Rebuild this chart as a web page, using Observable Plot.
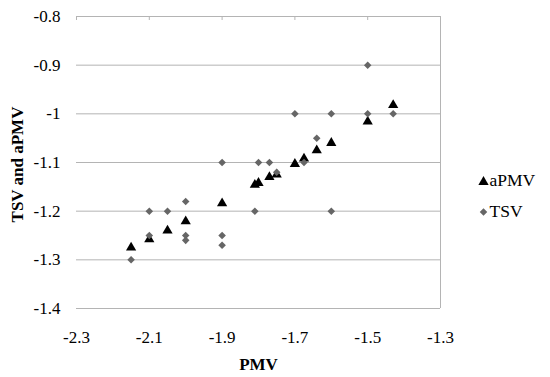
<!DOCTYPE html>
<html><head><meta charset="utf-8">
<script src="https://cdn.jsdelivr.net/npm/d3@7"></script>
<script src="https://cdn.jsdelivr.net/npm/@observablehq/plot@0.6"></script>
<style>
body{margin:0;background:#fff;}
#wrap{width:550px;height:377px;}
</style></head><body><div id="wrap"></div>
<script>
const xTicks = [-2.3, -2.1, -1.9, -1.7, -1.5, -1.3];
const yTicks = [-0.8, -0.9, -1.0, -1.1, -1.2, -1.3, -1.4];
const xLabel = "PMV";
const yLabel = "TSV and aPMV";
const seriesNames = ["aPMV", "TSV"];

const aPMV_x = [-2.15, -2.10, -2.05, -2.00, -1.90, -1.81, -1.80, -1.77, -1.75, -1.70, -1.675, -1.64, -1.60, -1.50, -1.43];
const aPMV_y = [-1.275, -1.258, -1.240, -1.221, -1.184, -1.146, -1.142, -1.130, -1.125, -1.103, -1.092, -1.075, -1.060, -1.016, -0.982];

const TSV_x = [-2.15, -2.10, -2.10, -2.05, -2.00, -2.00, -2.00, -1.90, -1.90, -1.90, -1.81, -1.80, -1.77, -1.75, -1.70, -1.675, -1.64, -1.60, -1.60, -1.50, -1.50, -1.43];
const TSV_y = [-1.30, -1.25, -1.20, -1.20, -1.18, -1.25, -1.26, -1.10, -1.25, -1.27, -1.20, -1.10, -1.10, -1.12, -1.00, -1.10, -1.05, -1.00, -1.20, -0.90, -1.00, -1.00];

const aPMV = aPMV_x.map((x, i) => ({x, y: aPMV_y[i]}));
const TSV = TSV_x.map((x, i) => ({x, y: TSV_y[i]}));

const fmt = d => String(Math.round(d * 10) / 10);
const gridColor = "#b4b4b4";
const font = '"Liberation Serif", "Times New Roman", serif';

const chart = Plot.plot({
  width: 550,
  height: 377,
  marginLeft: 76,
  marginRight: 110,
  marginTop: 16,
  marginBottom: 69,
  x: {domain: [-2.3, -1.3]},
  y: {domain: [-1.4, -0.8]},
  style: {fontFamily: font, fontSize: "17px", color: "#000", background: "#fff"},
  marks: [
    Plot.gridY(yTicks, {stroke: gridColor, strokeOpacity: 1}),
    Plot.ruleX([xTicks[xTicks.length - 1]], {stroke: gridColor}),
    Plot.ruleX(xTicks, {y1: -0.8, y2: -0.8082, stroke: gridColor}),
    Plot.axisY(yTicks, {tickSize: 0, tickPadding: 16, tickFormat: fmt, label: null, fontSize: 17}),
    Plot.axisX(xTicks, {tickSize: 0, tickPadding: 22, tickFormat: fmt, label: null, fontSize: 17}),
    Plot.text([xLabel], {frameAnchor: "bottom", dy: 56, fontWeight: "bold", fontSize: 17, textAnchor: "middle", lineAnchor: "middle"}),
    Plot.text([yLabel], {frameAnchor: "left", dx: -59, dy: 2, rotate: -90, fontWeight: "bold", fontSize: 17, textAnchor: "middle", lineAnchor: "middle"}),
    Plot.dot(aPMV, {x: "x", y: "y", symbol: "triangle", r: 3.8, fill: "#000", stroke: "none"}),
    Plot.dot(TSV, {x: "x", y: "y", symbol: d3.symbolDiamond2, r: 3.4, fill: "#666", stroke: "none"}),
    // legend
    Plot.dot([seriesNames[0]], {frameAnchor: "right", dx: 43, dy: 19.5, symbol: "triangle", r: 3.8, fill: "#000", stroke: "none"}),
    Plot.dot([seriesNames[1]], {frameAnchor: "right", dx: 43, dy: 49.5, symbol: d3.symbolDiamond2, r: 3.4, fill: "#666", stroke: "none"}),
    Plot.text([seriesNames[0]], {frameAnchor: "right", dx: 49, dy: 18, text: d => d, textAnchor: "start", fontSize: 17.5}),
    Plot.text([seriesNames[1]], {frameAnchor: "right", dx: 49, dy: 49, text: d => d, textAnchor: "start", fontSize: 17.5})
  ]
});
document.getElementById("wrap").appendChild(chart);
</script>
</body></html>
